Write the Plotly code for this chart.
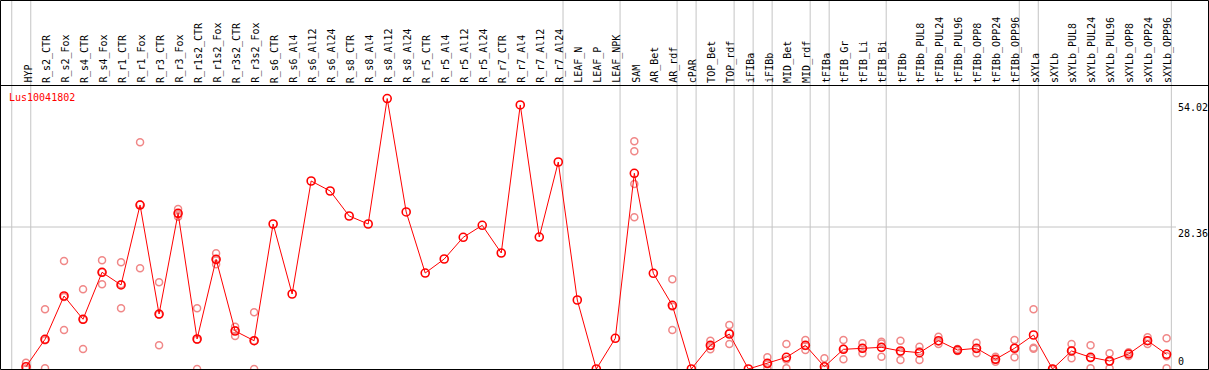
import plotly.graph_objects as go

# ---------------- data ----------------
gene_name = "Lus10041802"

categories = [
    "HYP", "R_s2_CTR", "R_s2_Fox", "R_s4_CTR", "R_s4_Fox", "R_r1_CTR", "R_r1_Fox",
    "R_r3_CTR", "R_r3_Fox", "R_r1s2_CTR", "R_r1s2_Fox", "R_r3s2_CTR", "R_r3s2_Fox",
    "R_s6_CTR", "R_s6_Al4", "R_s6_Al12", "R_s6_Al24", "R_s8_CTR", "R_s8_Al4",
    "R_s8_Al12", "R_s8_Al24", "R_r5_CTR", "R_r5_Al4", "R_r5_Al12", "R_r5_Al24",
    "R_r7_CTR", "R_r7_Al4", "R_r7_Al12", "R_r7_Al24", "LEAF_N", "LEAF_P", "LEAF_NPK",
    "SAM", "AR_Bet", "AR_rdf", "cPAR", "TOP_Bet", "TOP_rdf", "iFIBa", "iFIBb",
    "MID_Bet", "MID_rdf", "tFIBa", "tFIB_Gr", "tFIB_Li", "tFIB_Bi", "tFIBb",
    "tFIBb_PUL8", "tFIBb_PUL24", "tFIBb_PUL96", "tFIBb_OPP8", "tFIBb_OPP24",
    "tFIBb_OPP96", "sXYLa", "sXYLb", "sXYLb_PUL8", "sXYLb_PUL24", "sXYLb_PUL96",
    "sXYLb_OPP8", "sXYLb_OPP24", "sXYLb_OPP96",
]

# sizes of the sample groups separated by grey lines
group_sizes = [1, 28, 3, 3, 1, 2, 1, 1, 2, 1, 3, 7, 1, 7]

mean_values = [
    0.46, 5.93, 14.58, 9.93, 19.31, 16.78, 32.75, 10.98, 31.10, 5.99, 21.91, 7.59, 5.65,
    28.96, 14.98, 37.55, 35.55, 30.56, 28.96, 54.02, 31.36, 19.17, 21.97, 26.30, 28.70,
    23.17, 52.73, 26.36, 41.34, 13.78, 0.0, 6.13,
    39.09, 19.11, 12.72, 0.0, 4.73, 6.99, 0.0, 1.14, 2.34, 4.73, 0.46, 3.93, 4.13, 4.33,
    3.60, 3.26, 5.65, 3.79, 4.13, 1.94, 4.13, 6.79, 0.0, 3.60, 2.34, 1.60, 3.00, 5.65, 2.94,
]

N = None
rep1 = [1.26, 11.92, 21.57, 15.92, 21.71, 21.31, 45.28, 17.32, 31.96, 12.12, 23.11, 8.45, 11.32,
        N, N, N, N, N, N, N, N, N, N, N, N, N, N, N, N, N, N, N,
        45.48, N, 17.91, N, 5.65, 8.79, N, 2.34, 4.99, 5.79, 2.14, 5.79, 5.13, 5.45,
        5.65, 4.45, 6.45, 3.99, 5.25, 2.46, 5.79, 11.92, 0.0, 4.99, 4.73, 3.14, 3.34, 6.33, 6.13]
rep2 = [0.10, 0.14, 7.79, 3.99, 16.92, 12.12, 20.11, 4.73, 30.42, 0.0, 20.91, 6.59, 0.0,
        N, N, N, N, N, N, N, N, N, N, N, N, N, N, N, N, N, N, N,
        43.48, N, 7.79, N, 3.93, 4.99, N, 0.14, 0.14, 3.79, 0.0, 1.94, 3.14, 2.46,
        1.80, 1.80, 4.99, 3.59, 3.14, 1.90, 2.34, 4.25, 0.0, 2.14, 0.14, 0.14, 2.60, 4.99, 0.14]
rep3 = [0.0, 5.73, 14.38, 9.88, 19.30, 16.91, 32.86, 10.89, 30.92, 5.85, 21.71, 7.73, 5.63,
        N, N, N, N, N, N, N, N, N, N, N, N, N, N, N, N, N, N, N,
        36.95, N, 12.46, N, 4.61, 7.19, N, 0.94, 1.89, 4.61, 0.0, 4.06, 4.13, 5.08,
        3.35, 3.53, 5.51, 3.79, 4.00, 1.46, 4.26, 4.05, 0.0, 3.67, 2.15, 1.52, 3.06, 5.63, 2.55]
rep4 = [N] * 32 + [30.30] + [N] * 28

y_ticks = [0, 28.36, 54.02]

# ---------------- geometry ----------------
W, H = 1209, 370
x0_px, step_px = 26.0, 19.01      # pixel of first category, pixel spacing
y0_px, ppu = 369.0, 5.007          # pixel of value 0, pixels per unit
header_px = 85

xr = [-x0_px / step_px, (W - x0_px) / step_px]
y_top = y0_px / ppu
yr = [y_top - H / ppu, y_top]

def py(px):  # pixel from top -> paper y
    return 1 - px / H

def pxp(px):  # pixel from left -> paper x
    return px / W

idx = list(range(len(categories)))
RED = "#ff0000"
PINK = "rgb(240,135,135)"
GREY = "#c4c4c4"
FONT = "DejaVu Sans Mono"

fig = go.Figure()

# replicates
for rep in (rep1, rep2, rep3, rep4):
    fig.add_trace(go.Scatter(
        x=idx, y=rep, mode="markers", hoverinfo="skip",
        marker=dict(symbol="circle-open", size=7, color=PINK, line=dict(width=1.5, color=PINK)),
        showlegend=False, cliponaxis=False,
    ))

# mean line
fig.add_trace(go.Scatter(
    x=idx, y=mean_values, mode="lines+markers",
    line=dict(color=RED, width=1),
    marker=dict(symbol="circle-open", size=8, color=RED, line=dict(width=1.6, color=RED)),
    showlegend=False, cliponaxis=False,
))

shapes = []
# group separators
pos = -1
bounds = [pos + 0.25]
for g in group_sizes:
    pos += g
    bounds.append(pos + 0.25)
for b in bounds:
    shapes.append(dict(type="line", xref="x", yref="paper", x0=b, x1=b, y0=0, y1=1,
                       line=dict(color=GREY, width=1), layer="below"))
# mid grid line
shapes.append(dict(type="line", xref="paper", yref="y", x0=0, x1=pxp(1176),
                   y0=y_ticks[1], y1=y_ticks[1], line=dict(color=GREY, width=1), layer="below"))
# frame and header line
shapes.append(dict(type="rect", xref="paper", yref="paper", x0=pxp(0.5), x1=pxp(1208.5),
                   y0=py(369.5), y1=py(0.5), line=dict(color="black", width=1)))
shapes.append(dict(type="line", xref="paper", yref="paper", x0=0, x1=1,
                   y0=py(header_px + 0.5), y1=py(header_px + 0.5), line=dict(color="black", width=1)))

annotations = []
for i, c in enumerate(categories):
    annotations.append(dict(
        x=i + 0.08, xref="x", y=py(header_px - 1), yref="paper", text=c, showarrow=False,
        textangle=-90, xanchor="center", yanchor="bottom",
        font=dict(family=FONT, size=10, color="black"), borderpad=0,
    ))

annotations.append(dict(x=pxp(8), xref="paper", y=py(97), yref="paper", text=gene_name,
                        showarrow=False, xanchor="left", yanchor="middle",
                        font=dict(family=FONT, size=10, color=RED), borderpad=0))

tick_text = ["0", "28.36", "54.02"]
tick_anchor = ["bottom", "top", "top"]
tick_shift = [1, 0, -2]
for v, t, a, s in zip(y_ticks, tick_text, tick_anchor, tick_shift):
    annotations.append(dict(x=pxp(1177), xref="paper", y=v, yref="y", text=t, showarrow=False,
                            xanchor="left", yanchor=a, yshift=s,
                            font=dict(family=FONT, size=10, color="black"), borderpad=0))

fig.update_layout(
    width=W, height=H,
    margin=dict(l=0, r=0, t=0, b=0),
    paper_bgcolor="white", plot_bgcolor="white",
    xaxis=dict(range=xr, visible=False, showgrid=False, zeroline=False, fixedrange=True),
    yaxis=dict(range=yr, visible=False, showgrid=False, zeroline=False, fixedrange=True),
    shapes=shapes, annotations=annotations,
    hovermode=False,
)

fig.write_html("out.html", config={"displayModeBar": False},
               post_script="document.body.style.margin='0';document.body.style.overflow='hidden';")
